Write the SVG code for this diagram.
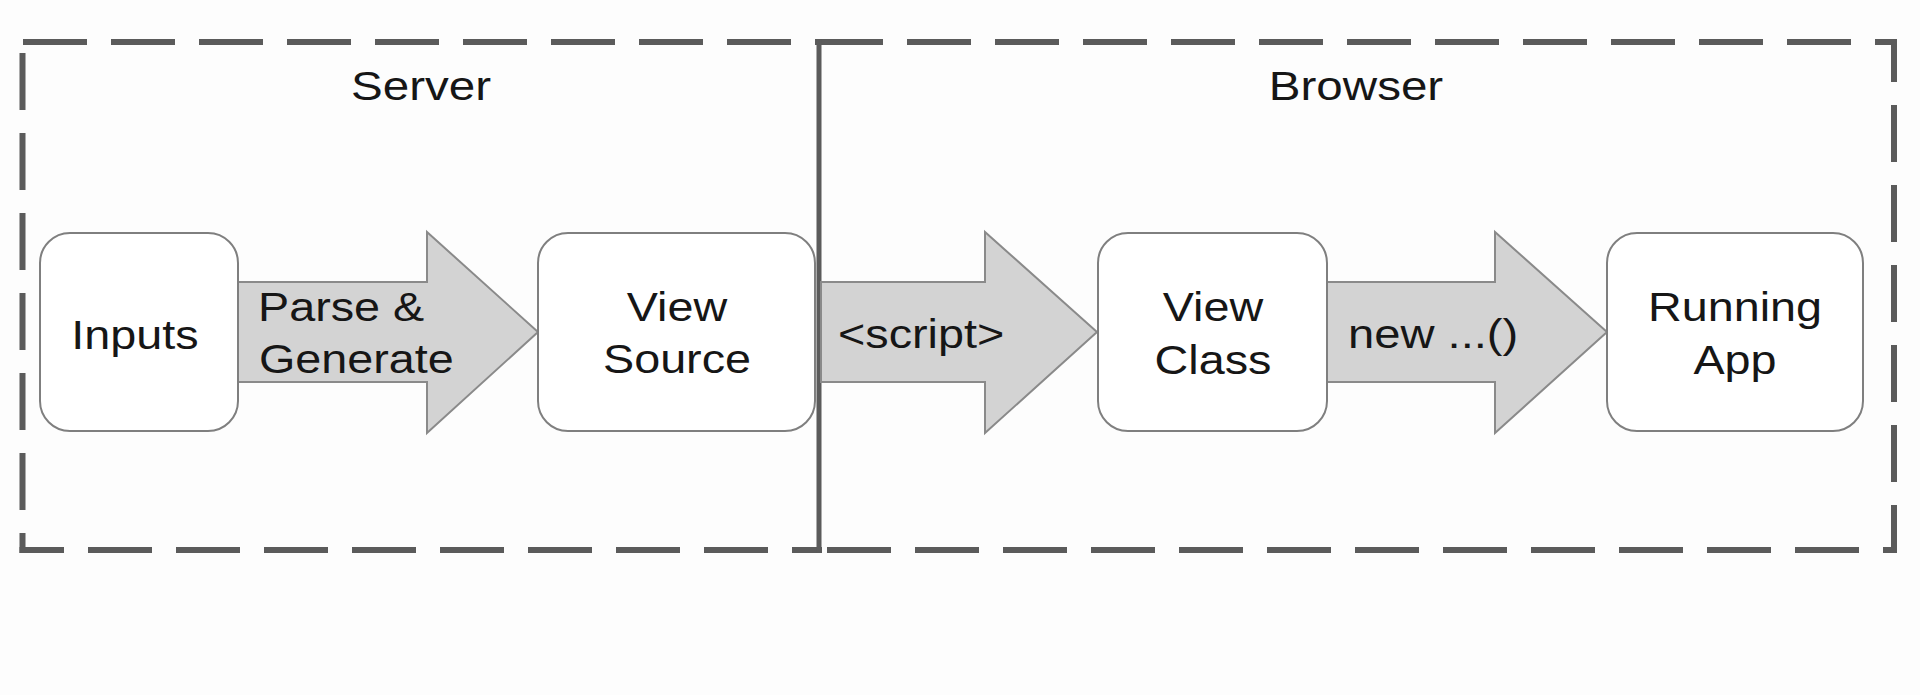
<svg xmlns="http://www.w3.org/2000/svg" width="1920" height="695" viewBox="0 0 1920 695">
  <style>
    .frame { stroke: #5b5b5b; stroke-width: 6; fill: none; stroke-linecap: butt; }
    .h { stroke-dasharray: 64 24; }
    .v { stroke-dasharray: 57 23; }
    .box { fill: #ffffff; stroke: #7f7f7f; stroke-width: 2; }
    .arrow { fill: #d3d3d3; stroke: #8a8a8a; stroke-width: 2; stroke-linejoin: miter; }
    .t { font-family: "Liberation Sans", Arial, sans-serif; font-size: 41px; fill: #161616; }
    .c { text-anchor: middle; }
  </style>
  <rect x="0" y="0" width="1920" height="695" fill="#fdfdfd"/>

  <g id="frame">
    <line class="frame h" x1="23" y1="42" x2="818" y2="42"/>
    <line class="frame v" x1="22.5" y1="53" x2="22.5" y2="553"/>
    <line class="frame h" x1="19.5" y1="550" x2="822" y2="550" stroke-dashoffset="19.5"/>
    <line class="frame h" x1="819" y1="42" x2="1897" y2="42"/>
    <line class="frame v" x1="1894" y1="39" x2="1894" y2="553" stroke-dashoffset="14"/>
    <line class="frame h" x1="819" y1="550" x2="1897" y2="550" stroke-dashoffset="-8"/>
    <line x1="819" y1="39" x2="819" y2="553" stroke="#5b5b5b" stroke-width="5"/>
  </g>

  <g id="title-server">
    <text class="t c" transform="translate(421,100) scale(1.16,1)">Server</text>
  </g>
  <g id="title-browser">
    <text class="t c" transform="translate(1356,100) scale(1.16,1)">Browser</text>
  </g>

  <g id="connectors">
    <g id="arrow-parse">
      <polygon class="arrow" points="238,282 427,282 427,232 538,332 427,433 427,382 238,382"/>
      <text class="t" transform="translate(258,321) scale(1.14,1)">Parse &amp;</text>
      <text class="t" transform="translate(259,373) scale(1.14,1)">Generate</text>
    </g>
    <g id="arrow-script">
      <polygon class="arrow" points="821,282 985,282 985,232 1097,332 985,433 985,382 821,382"/>
      <text class="t" transform="translate(838,348) scale(1.14,1)">&lt;script&gt;</text>
    </g>
    <g id="arrow-new">
      <polygon class="arrow" points="1327,282 1495,282 1495,232 1607,332 1495,433 1495,382 1327,382"/>
      <text class="t" transform="translate(1348,348) scale(1.15,1)">new ...()</text>
    </g>
  </g>

  <g id="node-inputs">
    <rect class="box" x="40" y="233" width="198" height="198" rx="30" ry="30"/>
    <text class="t c" transform="translate(135,349) scale(1.14,1)">Inputs</text>
  </g>
  <g id="node-view-source">
    <rect class="box" x="538" y="233" width="277" height="198" rx="30" ry="30"/>
    <text class="t c" transform="translate(677,321) scale(1.14,1)">View</text>
    <text class="t c" transform="translate(677,373) scale(1.14,1)">Source</text>
  </g>
  <g id="node-view-class">
    <rect class="box" x="1098" y="233" width="229" height="198" rx="30" ry="30"/>
    <text class="t c" transform="translate(1213,321) scale(1.14,1)">View</text>
    <text class="t c" transform="translate(1213,374) scale(1.14,1)">Class</text>
  </g>
  <g id="node-running-app">
    <rect class="box" x="1607" y="233" width="256" height="198" rx="30" ry="30"/>
    <text class="t c" transform="translate(1735,321) scale(1.14,1)">Running</text>
    <text class="t c" transform="translate(1735,374) scale(1.14,1)">App</text>
  </g>
</svg>
